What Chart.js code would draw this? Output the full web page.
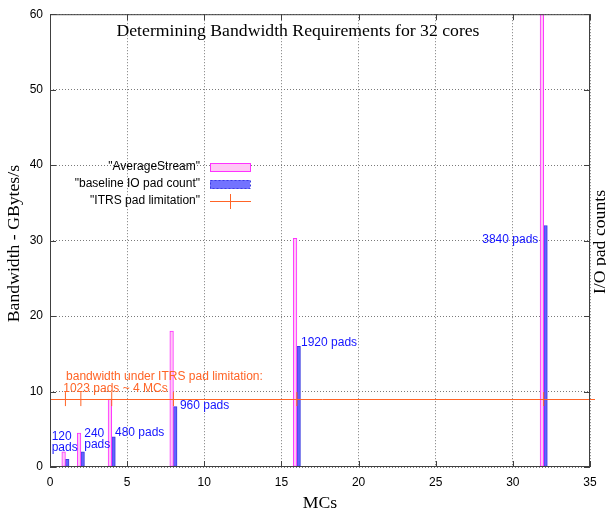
<!DOCTYPE html>
<html>
<head>
<meta charset="utf-8">
<script src="https://cdn.jsdelivr.net/npm/chart.js@4.4.1/dist/chart.umd.min.js"></script>
<style>
  html, body { margin: 0; padding: 0; background: #fff; }
</style>
</head>
<body>
<canvas id="chart" width="606" height="512"></canvas>
<script>
// values
const mcs = [1, 2, 4, 8, 16, 32];
const averageStream = [2, 4.5, 9, 18, 30.3, 60];
const baselinePads = [1, 2, 4, 8, 16, 32];
const padLabels = ["120\npads", "240\npads", "480 pads", "960 pads", "1920 pads", "3840 pads"];
const itrsLimit = 9;
const xTicks = [0, 5, 10, 15, 20, 25, 30, 35];
const yTicks = [0, 10, 20, 30, 40, 50, 60];

const sans = "'Liberation Sans', Arial, sans-serif";
const serif = "'Liberation Serif', 'Times New Roman', serif";
const orange = "#ff6426";
const blueText = "#1414ff";
const frame = "#404040";

// where gnuplot put the pad labels (data coords, first line)
const labelSpots = [
  { x: 0.11, y: 4.0, align: "left" },
  { x: 2.22, y: 4.4, align: "left" },
  { x: 4.21, y: 4.6, align: "left" },
  { x: 8.42, y: 8.1, align: "left" },
  { x: 16.27, y: 16.5, align: "left" },
  { x: 31.65, y: 30.1, align: "right" },
];

const decor = {
  id: "decor",
  beforeDraw(chart) {
    const ctx = chart.ctx;
    ctx.save();
    ctx.fillStyle = "#fff";
    ctx.fillRect(0, 0, chart.width, chart.height);
    ctx.restore();
  },
  afterDatasetsDraw(chart) {
    const { ctx, chartArea: a, scales } = chart;
    const yl = Math.round(scales.y.getPixelForValue(itrsLimit)) + 0.5;
    ctx.save();
    ctx.strokeStyle = orange;
    ctx.lineWidth = 1;
    ctx.beginPath();
    ctx.moveTo(a.left, yl);
    ctx.lineTo(a.right + 5, yl);
    ctx.stroke();
    ctx.restore();
  },
  afterDraw(chart) {
    const { ctx, chartArea: a, scales } = chart;
    const { x, y } = scales;
    ctx.save();

    // border + inward ticks
    ctx.strokeStyle = frame;
    ctx.lineWidth = 1;
    ctx.strokeRect(a.left + 0.5, a.top + 0.5, a.right - a.left - 1, a.bottom - a.top - 1);
    ctx.beginPath();
    xTicks.forEach((v) => {
      const px = Math.round(x.getPixelForValue(v)) + 0.5;
      ctx.moveTo(px, a.bottom); ctx.lineTo(px, a.bottom - 6);
      ctx.moveTo(px, a.top); ctx.lineTo(px, a.top + 6);
    });
    yTicks.forEach((v) => {
      const py = Math.round(y.getPixelForValue(v)) + 0.5;
      ctx.moveTo(a.left, py); ctx.lineTo(a.left + 6, py);
      ctx.moveTo(a.right, py); ctx.lineTo(a.right - 6, py);
    });
    ctx.stroke();

    // title and axis titles
    ctx.fillStyle = "#000";
    ctx.font = "17.7px " + serif;
    ctx.textAlign = "center";
    ctx.textBaseline = "middle";
    ctx.fillText("Determining Bandwidth Requirements for 32 cores", 298, 31);
    ctx.fillText("MCs", (a.left + a.right) / 2, 503);

    ctx.save();
    ctx.translate(14, (a.top + a.bottom) / 2 + 3);
    ctx.rotate(-Math.PI / 2);
    ctx.fillText("Bandwidth - GBytes/s", 0, 0);
    ctx.restore();

    ctx.save();
    ctx.translate(600, 242);
    ctx.rotate(-Math.PI / 2);
    ctx.fillText("I/O pad counts", 0, 0);
    ctx.restore();

    // pad count labels
    ctx.font = "12px " + sans;
    ctx.fillStyle = blueText;
    padLabels.forEach((txt, i) => {
      const s = labelSpots[i];
      ctx.textAlign = s.align;
      const px = x.getPixelForValue(s.x);
      const py = y.getPixelForValue(s.y);
      txt.split("\n").forEach((line, k) => ctx.fillText(line, px, py + k * 11));
    });

    // ITRS note
    ctx.fillStyle = orange;
    ctx.textAlign = "left";
    ctx.fillText("bandwidth under ITRS pad limitation:", x.getPixelForValue(1.04), y.getPixelForValue(12.0));
    ctx.fillText("1023 pads ~ 4 MCs", x.getPixelForValue(0.86), y.getPixelForValue(10.4));

    // key
    const keyX = 200, keyY = 167, step = 17;
    const names = ['"AverageStream"', '"baseline IO pad count"', '"ITRS pad limitation"'];
    ctx.fillStyle = "#000";
    ctx.textAlign = "right";
    names.forEach((n, i) => ctx.fillText(n, keyX, keyY + i * step));

    ctx.fillStyle = "#ffc8f5";
    ctx.fillRect(210, keyY - 4, 40, 9);
    ctx.strokeStyle = "#ff33ff";
    ctx.strokeRect(210.5, keyY - 3.5, 40, 8);

    ctx.fillStyle = "#7272ff";
    ctx.fillRect(210, keyY + step - 4, 40, 9);
    ctx.strokeStyle = "#3a3ae0";
    ctx.setLineDash([2, 2]);
    ctx.strokeRect(210.5, keyY + step - 3.5, 40, 8);
    ctx.setLineDash([]);

    ctx.strokeStyle = orange;
    ctx.beginPath();
    ctx.moveTo(210, keyY + 2 * step + 0.5);
    ctx.lineTo(251, keyY + 2 * step + 0.5);
    ctx.moveTo(230.5, keyY + 2 * step - 7);
    ctx.lineTo(230.5, keyY + 2 * step + 8);
    ctx.stroke();

    ctx.restore();
  },
};

const gridStyle = { color: "#7a7a7a", lineWidth: 1, drawTicks: false };
const tickFont = { family: sans, size: 12 };

new Chart(document.getElementById("chart"), {
  type: "bar",
  data: {
    datasets: [
      {
        label: "ITRS pad limitation",
        type: "line",
        data: mcs.map((m) => ({ x: m, y: itrsLimit })),
        showLine: false,
        pointStyle: "line",
        pointRotation: 90,
        pointRadius: 7,
        pointBorderColor: orange,
        pointBorderWidth: 1,
        borderColor: orange,
        order: 0,
      },
      {
        label: "AverageStream",
        data: mcs.map((m, i) => ({ x: m, y: averageStream[i] })),
        backgroundColor: "#ffc8f5",
        borderColor: "#ff33ff",
        borderWidth: 1,
        borderSkipped: false,
        barThickness: 3.6,
        order: 1,
      },
      {
        label: "baseline IO pad count",
        data: mcs.map((m, i) => ({ x: m, y: baselinePads[i] })),
        backgroundColor: "#6262ff",
        borderColor: "#3a3ae0",
        borderWidth: 1,
        borderSkipped: false,
        barThickness: 3.6,
        order: 1,
      },
    ],
  },
  options: {
    responsive: false,
    animation: false,
    devicePixelRatio: 1,
    layout: { padding: { left: 0, right: 16, top: 8, bottom: 0 } },
    plugins: { legend: { display: false }, tooltip: { enabled: false } },
    scales: {
      x: {
        type: "linear",
        min: 0,
        max: 35,
        offset: false,
        afterBuildTicks: (s) => { s.ticks = xTicks.map((v) => ({ value: v })); },
        afterFit: (s) => { s.height = 45; },
        grid: { ...gridStyle, offset: false },
        border: { display: false, dash: [1, 2] },
        ticks: { font: tickFont, color: "#000", padding: 8, maxRotation: 0 },
      },
      y: {
        min: 0,
        max: 60,
        afterBuildTicks: (s) => { s.ticks = yTicks.map((v) => ({ value: v })); },
        afterFit: (s) => { s.width = 50; },
        grid: gridStyle,
        border: { display: false, dash: [1, 2] },
        ticks: { font: tickFont, color: "#000", padding: 7 },
      },
    },
  },
  plugins: [decor],
});
</script>
</body>
</html>
